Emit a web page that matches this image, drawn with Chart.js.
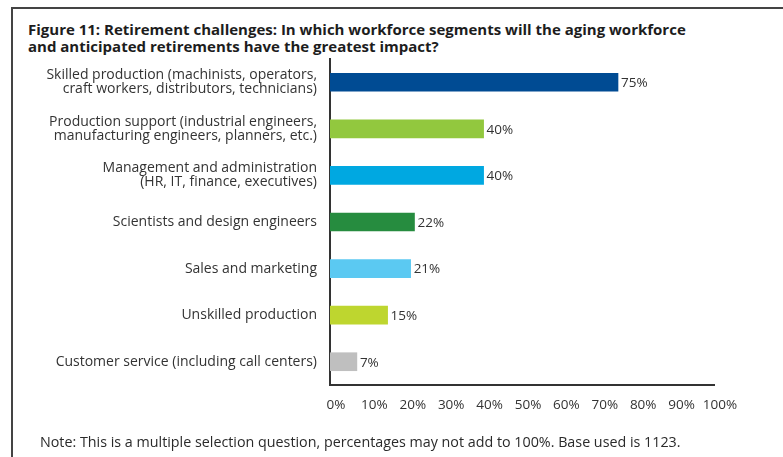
<!DOCTYPE html>
<html>
<head>
<meta charset="utf-8">
<script src="https://cdn.jsdelivr.net/npm/chart.js@4/dist/chart.umd.min.js"></script>
<style>
  html, body { margin: 0; padding: 0; background: #fff; }
  body { width: 783px; height: 457px; position: relative; overflow: hidden; }
  #frame { position: absolute; left: 11px; top: 7px; width: 800px; height: 500px;
           border-left: 2px solid #444; border-top: 2px solid #444; }
  #title { position: absolute; left: 28px; top: 21px; font-family: "Open Sans", sans-serif;
           font-weight: bold; font-size: 15px; line-height: 17px; color: #1d1d1d; }
  #note { position: absolute; left: 40px; top: 433px; font-family: "Open Sans", sans-serif;
          font-size: 14.3px; line-height: 18px; color: #2a2a2a; }
  #wrap { position: absolute; left: 0; top: 0; width: 783px; height: 457px; }
</style>
</head>
<body>
<div id="frame"></div>
<div id="title">Figure 11: Retirement challenges: In which workforce segments will the aging workforce<br>and anticipated retirements have the greatest impact?</div>
<div id="wrap"><canvas id="c" width="783" height="457"></canvas></div>
<div id="note">Note: This is a multiple selection question, percentages may not add to 100%. Base used is 1123.</div>
<script>
const categories = [
  ["Skilled production (machinists, operators,", "craft workers, distributors, technicians)"],
  ["Production support (industrial engineers,", "manufacturing engineers, planners, etc.)"],
  ["Management and administration", "(HR, IT, finance, executives)"],
  "Scientists and design engineers",
  "Sales and marketing",
  "Unskilled production",
  "Customer service (including call centers)"
];
const values = [75, 40, 40, 22, 21, 15, 7];
const barColors = ["#004B93", "#92C83E", "#00A8E1", "#268C3F", "#5BC9F2", "#BED62F", "#BFBFBF"];
const tickValues = [0, 10, 20, 30, 40, 50, 60, 70, 80, 90, 100];

const valueLabels = {
  id: 'valueLabels',
  afterDatasetsDraw(chart) {
    const ctx = chart.ctx;
    const meta = chart.getDatasetMeta(0);
    ctx.save();
    ctx.font = '13.5px "Open Sans", sans-serif';
    ctx.fillStyle = '#333';
    ctx.textAlign = 'left';
    ctx.textBaseline = 'middle';
    meta.data.forEach((bar, i) => {
      ctx.fillText(values[i] + '%', bar.x + 3, bar.y + 1);
    });
    ctx.restore();
  }
};

new Chart(document.getElementById('c'), {
  type: 'bar',
  data: {
    labels: categories,
    datasets: [{
      data: values,
      backgroundColor: barColors,
      barThickness: 18,
      borderWidth: 0
    }]
  },
  options: {
    indexAxis: 'y',
    responsive: false,
    animation: false,
    layout: { padding: { top: 59, right: 69, left: 0, bottom: 0 } },
    plugins: { legend: { display: false }, tooltip: { enabled: false } },
    scales: {
      x: {
        min: 0, max: 100,
        afterBuildTicks(scale) { scale.ticks = tickValues.map(v => ({ value: v })); },
        afterFit(scale) { scale.height = 72; },
        grid: { display: false, drawTicks: false },
        border: { display: true, color: '#333', width: 2 },
        ticks: {
          padding: 12,
          labelOffset: 6,
          autoSkip: false,
          maxRotation: 0,
          color: '#333',
          font: { family: '"Open Sans", sans-serif', size: 13.5 },
          callback: (v) => v + '%'
        }
      },
      y: {
        afterFit(scale) { scale.width = 330; },
        grid: { display: false, drawTicks: false },
        border: { display: true, color: '#333', width: 2 },
        ticks: {
          padding: 13,
          color: '#333',
          font: { family: '"Open Sans", sans-serif', size: 14, lineHeight: 1.0 }
        }
      }
    }
  },
  plugins: [valueLabels]
});
</script>
</body>
</html>
